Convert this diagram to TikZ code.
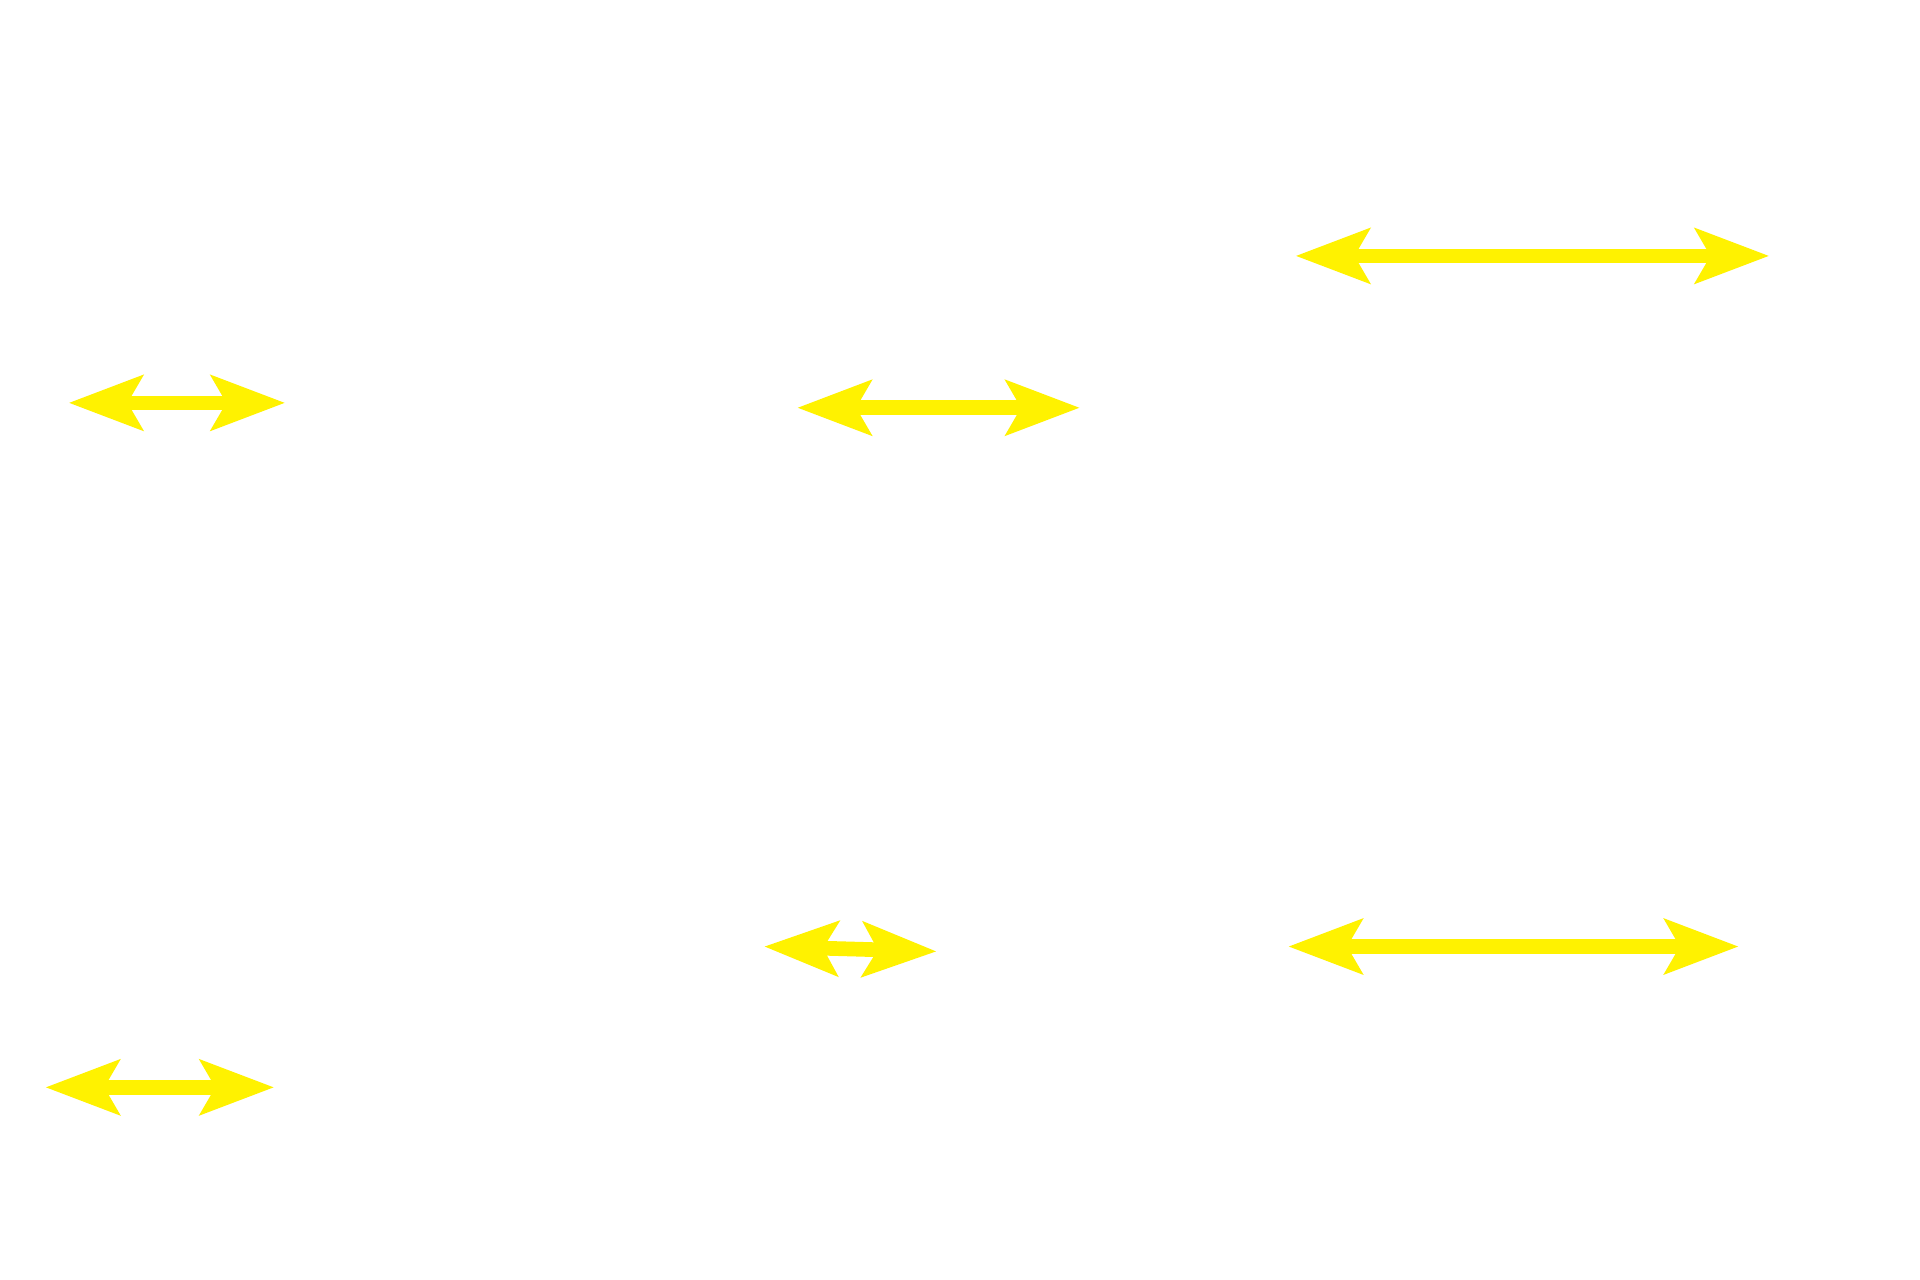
\documentclass[tikz,border=0pt]{standalone}
\usetikzlibrary{arrows.meta}
\begin{document}
\begin{tikzpicture}[x=0.01cm,y=-0.01cm,
  dbl/.style={draw=yellow,line width=0.12cm,{Stealth[length=0.6cm,width=0.44cm,inset=0.12cm]}-{Stealth[length=0.6cm,width=0.44cm,inset=0.12cm]}}]
\useasboundingbox[fill=white] (0,0) rectangle (1568,1045);
\coordinate (a1) at (1058,209); \coordinate (b1) at (1445,209);
\coordinate (a2) at (56,329); \coordinate (b2) at (233,329);
\coordinate (a3) at (651,333); \coordinate (b3) at (882,333);
\coordinate (a4) at (624,773); \coordinate (b4) at (765,777);
\coordinate (a5) at (1052,773); \coordinate (b5) at (1420,773);
\coordinate (a6) at (37,888); \coordinate (b6) at (224,888);
\foreach \i in {1,...,6} \draw[dbl] (a\i) -- (b\i);
\end{tikzpicture}
\end{document}
